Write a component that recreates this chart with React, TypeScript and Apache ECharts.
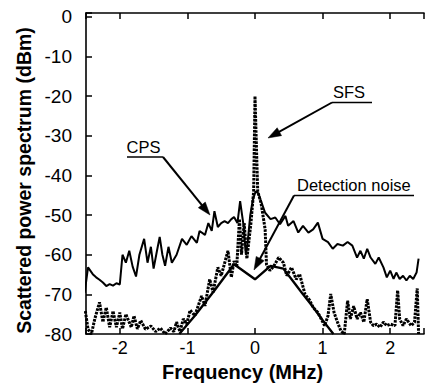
import React, { useEffect, useRef } from 'react';
import * as echarts from 'echarts';

// Coupled power spectrum (CPS)
const cpsX = [-2.52, -2.47, -2.4, -2.35, -2.3, -2.25, -2.2, -2.15, -2.1, -2.05, -2.0, -1.96, -1.91, -1.86, -1.81, -1.76, -1.71, -1.64, -1.59, -1.54, -1.5, -1.45, -1.41, -1.37, -1.33, -1.28, -1.23, -1.16, -1.08, -1.01, -0.94, -0.86, -0.82, -0.74, -0.69, -0.64, -0.6, -0.55, -0.5, -0.45, -0.4, -0.35, -0.31, -0.26, -0.22, -0.17, -0.135, -0.11, -0.07, -0.03, 0.01, 0.05, 0.08, 0.15, 0.23, 0.3, 0.37, 0.45, 0.49, 0.57, 0.64, 0.71, 0.79, 0.86, 0.93, 1.0, 1.08, 1.15, 1.22, 1.3, 1.37, 1.44, 1.51, 1.56, 1.61, 1.66, 1.71, 1.78, 1.83, 1.9, 1.95, 2.0, 2.05, 2.09, 2.14, 2.19, 2.24, 2.29, 2.34, 2.39, 2.42];
const cpsY = [-69.6, -63.2, -64.9, -65.7, -66.3, -67, -67.9, -67.4, -67.8, -67.2, -67.5, -60, -62, -59, -63, -65.5, -60, -56, -62, -58, -63.5, -59, -55.5, -60, -62.8, -58, -62, -60, -56, -57.5, -55.3, -57, -54, -55, -52, -54, -49, -53, -52, -51.5, -52, -51, -50.5, -52, -46.5, -52.5, -60, -57, -50, -46, -44, -44.5, -46, -49.4, -51, -50.6, -52.3, -50.2, -52.7, -51.5, -54.4, -52.7, -54.4, -53.6, -51.9, -56, -56.8, -58.5, -57.3, -57.7, -56.8, -57.7, -60.7, -59, -61, -58.5, -60.7, -62.3, -60.7, -63.2, -65.7, -64, -66.1, -64.5, -66.1, -65.3, -66.5, -65.3, -66.1, -64.5, -61];

// SFS (dotted, thick)
const sfsX = [-2.51, -2.47, -2.42, -2.37, -2.3, -2.25, -2.2, -2.15, -2.1, -2.05, -2.0, -1.96, -1.91, -1.83, -1.79, -1.74, -1.69, -1.62, -1.54, -1.47, -1.4, -1.33, -1.25, -1.2, -1.16, -1.11, -1.06, -1.01, -0.96, -0.89, -0.79, -0.74, -0.67, -0.62, -0.55, -0.5, -0.4, -0.35, -0.31, -0.27, -0.23, -0.2, -0.16, -0.12, -0.06, -0.02, 0.0, 0.04, 0.09, 0.15, 0.17, 0.22, 0.28, 0.35, 0.42, 0.47, 0.54, 0.61, 0.66, 0.74, 0.81, 0.86, 0.93, 0.98, 1.03, 1.08, 1.12, 1.17, 1.22, 1.27, 1.32, 1.37, 1.41, 1.46, 1.51, 1.56, 1.61, 1.66, 1.71, 1.75, 1.8, 1.85, 1.9, 1.95, 2.0, 2.07, 2.11, 2.14, 2.19, 2.24, 2.31, 2.36, 2.4, 2.42];
const sfsY = [-74.2, -78.8, -80, -76.2, -72, -77, -73.3, -78.3, -74.2, -78.3, -74.6, -78.7, -75, -78.3, -75.4, -78.7, -76.6, -78.8, -78, -79.4, -78.5, -80, -78.5, -79.4, -77, -79.4, -76.2, -77.5, -74, -75.4, -70.4, -72.9, -66.2, -69.5, -63.2, -65.3, -59, -65.7, -61.6, -63, -51, -60, -52, -61, -52, -44, -20, -44, -47, -53.6, -62.5, -64, -62.8, -60.7, -62, -65.3, -63.2, -66.2, -64.9, -70, -71.5, -73.3, -74.6, -76.2, -77.9, -75.4, -69.9, -74.6, -77, -79.2, -80, -71.6, -76.2, -73, -76.2, -74.6, -77, -71.2, -77, -77.9, -77.5, -78.3, -77, -77.9, -77.5, -77.9, -69, -76.2, -77.9, -76.2, -77.9, -77, -68.5, -80];

// Detection noise (smooth)
const noiseX = [-1.12, -0.89, -0.6, -0.31, 0.0, 0.23, 0.42, 0.6, 0.71, 0.85, 1.0, 1.16];
const noiseY = [-80, -75.4, -69, -62.4, -66.2, -62.8, -63.5, -67.5, -70, -73, -76.5, -80];

const xTickLabels = [-2, -1, 0, 1, 2];
const yTickLabels = [0, -10, -20, -30, -40, -50, -60, -70, -80];

const FONT = "'Liberation Sans', Arial, Helvetica, sans-serif";

function arrow(x1: number, y1: number, x2: number, y2: number, len: number, half: number) {
  const dx = x2 - x1;
  const dy = y2 - y1;
  const d = Math.sqrt(dx * dx + dy * dy);
  const ux = dx / d;
  const uy = dy / d;
  const bx = x2 - ux * len;
  const by = y2 - uy * len;
  return [
    [x2, y2],
    [bx - uy * half, by + ux * half],
    [bx + uy * half, by - ux * half],
  ];
}

function annotation(label: string, tx: number, ty: number, ux1: number, ux2: number, uy: number, startX: number, tipX: number, tipY: number) {
  const dx = tipX - startX;
  const dy = tipY - uy;
  const d = Math.sqrt(dx * dx + dy * dy);
  const ex = tipX - (dx / d) * 9;
  const ey = tipY - (dy / d) * 9;
  return [
    {
      type: 'text',
      x: tx,
      y: ty,
      style: { text: label, font: `16.5px ${FONT}`, fill: '#000', textAlign: 'left', textVerticalAlign: 'middle' },
    },
    {
      type: 'polyline',
      shape: { points: [[ux1, uy], [ux2, uy]] },
      style: { stroke: '#000', lineWidth: 1.6, fill: null },
    },
    {
      type: 'line',
      shape: { x1: startX, y1: uy, x2: ex, y2: ey },
      style: { stroke: '#000', lineWidth: 2 },
    },
    {
      type: 'polygon',
      shape: { points: arrow(startX, uy, tipX, tipY, 13, 4.5) },
      style: { fill: '#000', stroke: '#000', lineWidth: 0.5 },
    },
  ];
}

export default function App() {
  const ref = useRef<HTMLDivElement>(null);
  useEffect(() => {
    if (!ref.current) return;
    const chart = echarts.init(ref.current, null, { renderer: 'svg' });
    const axisLine = { show: true, onZero: false, lineStyle: { color: '#000', width: 1.6 } };
    const tick = { show: true, inside: true, length: 6, lineStyle: { color: '#000', width: 1.5 } };
    const near = (v: number, arr: number[]) => arr.some((a) => Math.abs(a - v) < 1e-6);
    const xFmt = (v: number) => (near(v, xTickLabels) ? String(Math.round(v)) : '');
    const yFmt = (v: number) => (near(v, yTickLabels) ? String(Math.round(v)) : '');
    chart.setOption({
      animation: false,
      backgroundColor: '#fff',
      grid: { left: 86, right: -7.6, top: 13, bottom: 49, containLabel: false },
      xAxis: [
        {
          type: 'value', min: -2.5, max: 2.5, splitNumber: 5, position: 'bottom',
          axisLine, axisTick: tick, splitLine: { show: false },
          axisLabel: { formatter: xFmt, color: '#000', fontSize: 18, fontFamily: FONT, margin: 5, lineHeight: 18 },
        },
        {
          type: 'value', min: -2.5, max: 2.5, splitNumber: 5, position: 'top',
          axisLine, axisTick: tick, splitLine: { show: false }, axisLabel: { show: false },
        },
      ],
      yAxis: [
        {
          type: 'value', min: -80, max: 1, interval: 10,
          axisLine, axisTick: tick, splitLine: { show: false },
          axisLabel: { formatter: yFmt, color: '#000', fontSize: 19, fontFamily: FONT, margin: 14 },
        },
      ],
      series: [
        {
          name: 'CPS', type: 'line', symbol: 'none', clip: true,
          data: cpsX.map((x, i) => [x, cpsY[i]]),
          lineStyle: { color: '#000', width: 2 },
        },
        {
          name: 'SFS', type: 'line', symbol: 'none', clip: true,
          data: sfsX.map((x, i) => [x, sfsY[i]]),
          lineStyle: { color: '#000', width: 3, type: [2.6, 1.1] },
        },
        {
          name: 'Detection noise', type: 'line', symbol: 'none', clip: true,
          data: noiseX.map((x, i) => [x, noiseY[i]]),
          lineStyle: { color: '#000', width: 2.4 },
        },
      ],
      graphic: [
        {
          type: 'text', x: 24, y: 180.5, rotation: Math.PI / 2,
          style: { text: 'Scattered power spectrum (dBm)', font: `bold 19.5px ${FONT}`, fill: '#000', textAlign: 'center', textVerticalAlign: 'middle' },
        },
        {
          type: 'text', x: 242.5, y: 372,
          style: { text: 'Frequency (MHz)', font: `bold 20px ${FONT}`, fill: '#000', textAlign: 'center', textVerticalAlign: 'middle' },
        },
        ...annotation('CPS', 126.5, 147, 127, 163, 157, 163, 210, 215),
        ...annotation('SFS', 333, 91.5, 332, 372, 102.5, 332, 268, 138),
        ...annotation('Detection noise', 297, 185, 294, 414, 195.5, 294, 254, 270),
      ],
    });
    return () => chart.dispose();
  }, []);
  return <div ref={ref} style={{ position: 'absolute', left: 0, top: 0, width: 427, height: 383 }} />;
}
